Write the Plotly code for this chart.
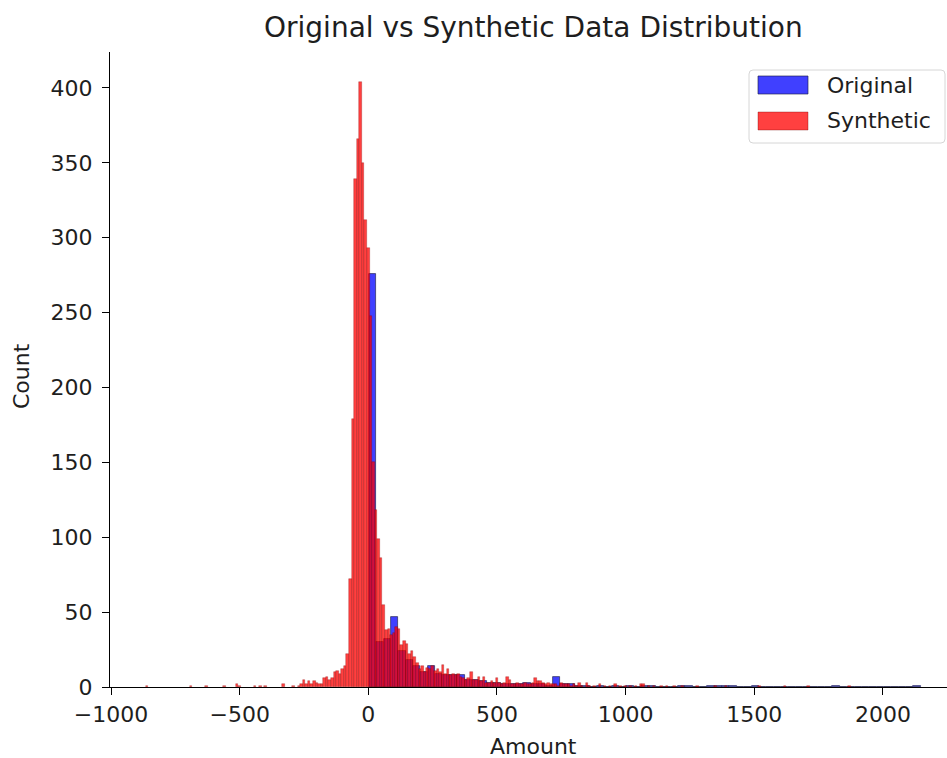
import numpy as np
import plotly.graph_objects as go

# ---------------- data ----------------
syn_bin_width = 10
syn_bin_centers = [
    -860, -690, -630, -560, -510, -500, -440, -420, -400, -330, -290, -270, -260, -250,
    -240, -230, -220, -210, -200, -190, -180, -170, -160, -150, -140, -130, -120, -110,
    -100, -90, -80, -70, -60, -50, -40, -30, -20, -10, 0, 10, 20, 30, 40, 50, 60, 70,
    80, 90, 100, 110, 120, 130, 140, 150, 160, 170, 180, 190, 200, 210, 220, 230, 240,
    250, 260, 270, 280, 290, 300, 310, 320, 330, 340, 350, 360, 370, 380, 390, 400, 410,
    420, 430, 440, 450, 460, 470, 480, 490, 500, 510, 520, 530, 540, 550, 560, 570, 580,
    590, 600, 610, 620, 630, 640, 650, 660, 670, 680, 690, 700, 710, 720, 730, 740, 750,
    760, 770, 780, 790, 800, 810, 820, 830, 850, 860, 880, 900, 920, 940, 960, 980, 1000,
    1020, 1040, 1060, 1070, 1090, 1110, 1140, 1160, 1190, 1220, 1280, 1350, 1390, 1520,
    1620, 1710, 1870,
]
syn_counts = [
    1, 1, 1, 1, 2, 1, 1, 1, 1, 2, 1, 1, 2, 5,
    2, 4, 2, 4, 3, 2, 2, 6, 7, 5, 6, 10, 11, 9,
    12, 14, 22, 72, 179, 339, 366, 404, 350, 312, 293, 248, 150, 118, 99, 86, 55, 38,
    39, 35, 36, 40, 39, 28, 31, 29, 22, 24, 20, 16, 12, 14, 10, 13, 12,
    14, 11, 12, 10, 15, 9, 12, 8, 9, 8, 9, 7, 6, 5, 6, 10, 5,
    5, 7, 4, 7, 3, 3, 4, 3, 6, 3, 2, 3, 7, 5, 2, 2, 3,
    2, 2, 3, 2, 2, 3, 6, 4, 4, 3, 2, 3, 2, 2, 2, 1, 3,
    2, 2, 2, 1, 2, 1, 3, 1, 3, 1, 1, 2, 1, 1, 2, 1, 1,
    1, 1, 2, 2, 1, 1, 1, 1, 1, 1, 1, 1, 1, 1,
    1, 1, 1,
]

orig_bin_start = 2.0
orig_bin_width = 28.6
orig_counts = [
    276, 30, 32, 47, 24, 18, 14, 10, 14, 9,
    8, 8, 8, 5, 5, 4, 3, 3, 2, 2,
    2, 3, 2, 2, 1, 7, 2, 2, 1, 1,
    0, 1, 0, 1, 0, 1, 0, 1, 1, 0,
    0, 0, 1, 1, 0, 0, 1, 1, 1, 1,
    0, 0, 1, 0, 0, 0, 0, 0, 0, 0,
    0, 0, 0, 1, 0, 0, 0, 0, 0, 0,
    0, 0, 0, 0, 1,
]

x_ticks = [-1000, -500, 0, 500, 1000, 1500, 2000]
x_tick_labels = ["\u22121000", "\u2212500", "0", "500", "1000", "1500", "2000"]
y_ticks = [0, 50, 100, 150, 200, 250, 300, 350, 400]
series_names = ["Original", "Synthetic"]

# ---------------- layout helpers ----------------
W, H = 947, 758
L, R, T, B = 110, 947, 52, 687   # plot area in pixels


def pxx(x):
    return (x - L) / (R - L)


def pxy(y):
    return (B - y) / (B - T)


FONT = "DejaVu Sans"
TXT = "#1e1e1e"
BLUE = "rgba(0,0,255,0.75)"
RED = "rgba(255,0,0,0.75)"
BLUE_EDGE = "rgba(30,30,70,0.8)"
RED_EDGE = "rgba(120,0,0,0.45)"

orig_centers = orig_bin_start + orig_bin_width * (np.arange(len(orig_counts)) + 0.5)

fig = go.Figure()
fig.add_bar(
    x=orig_centers, y=orig_counts, width=orig_bin_width, name=series_names[0],
    marker=dict(color=BLUE, line=dict(color=BLUE_EDGE, width=0.8)),
    showlegend=False,
)
fig.add_bar(
    x=syn_bin_centers, y=syn_counts, width=syn_bin_width, name=series_names[1],
    marker=dict(color=RED, line=dict(color=RED_EDGE, width=0.6)),
    showlegend=False,
)

axis_common = dict(
    showgrid=False, zeroline=False, showline=True, linecolor="black", linewidth=1.2,
    ticks="outside", ticklen=7, tickwidth=1.2, tickcolor="black",
    tickfont=dict(family=FONT, size=22, color=TXT),
)
fig.update_layout(
    width=W, height=H, autosize=False,
    margin=dict(l=L, r=W - R, t=T, b=H - B, pad=0),
    paper_bgcolor="white", plot_bgcolor="white",
    barmode="overlay", bargap=0,
    xaxis=dict(range=[-1004, 2249], tickvals=x_ticks, ticktext=x_tick_labels, **axis_common),
    yaxis=dict(range=[0, 424], tickvals=y_ticks, ticklabelstandoff=5, **axis_common),
    showlegend=False,
)

annotations = [
    dict(text="Original vs Synthetic Data Distribution", x=pxx(533), y=pxy(28),
         xref="paper", yref="paper", showarrow=False, xanchor="center", yanchor="middle",
         font=dict(family=FONT, size=28, color=TXT)),
    dict(text="Amount", x=pxx(533), y=pxy(746), xref="paper", yref="paper", showarrow=False,
         xanchor="center", yanchor="middle", font=dict(family=FONT, size=22, color=TXT)),
    dict(text="Count", x=pxx(22), y=pxy(376), xref="paper", yref="paper", showarrow=False,
         xanchor="center", yanchor="middle", textangle=-90,
         font=dict(family=FONT, size=22, color=TXT)),
]

# legend drawn like matplotlib's (box, patches, labels)
lx0, lx1, ly0, ly1, rr = 749, 945, 70, 143, 4
path = (f"M {pxx(lx0 + rr)} {pxy(ly0)} L {pxx(lx1 - rr)} {pxy(ly0)} "
        f"Q {pxx(lx1)} {pxy(ly0)} {pxx(lx1)} {pxy(ly0 + rr)} "
        f"L {pxx(lx1)} {pxy(ly1 - rr)} Q {pxx(lx1)} {pxy(ly1)} {pxx(lx1 - rr)} {pxy(ly1)} "
        f"L {pxx(lx0 + rr)} {pxy(ly1)} Q {pxx(lx0)} {pxy(ly1)} {pxx(lx0)} {pxy(ly1 - rr)} "
        f"L {pxx(lx0)} {pxy(ly0 + rr)} Q {pxx(lx0)} {pxy(ly0)} {pxx(lx0 + rr)} {pxy(ly0)} Z")
shapes = [
    dict(type="path", path=path, xref="paper", yref="paper",
         line=dict(color="#d6d6d6", width=1), fillcolor="rgba(255,255,255,0.85)", layer="above"),
]
for i, (name, col, edge) in enumerate([
    (series_names[0], BLUE, BLUE_EDGE),
    (series_names[1], RED, RED_EDGE),
]):
    cy = 85 + i * 36
    shapes.append(dict(type="rect", xref="paper", yref="paper",
                       x0=pxx(758), x1=pxx(808), y0=pxy(cy - 9), y1=pxy(cy + 9),
                       fillcolor=col, line=dict(color=edge, width=0.8), layer="above"))
    annotations.append(dict(text=name, x=pxx(825), y=pxy(cy), xref="paper", yref="paper",
                            showarrow=False, xanchor="left", yanchor="middle",
                            font=dict(family=FONT, size=22, color=TXT)))

fig.update_layout(shapes=shapes, annotations=annotations)
fig.write_html("out.html")
